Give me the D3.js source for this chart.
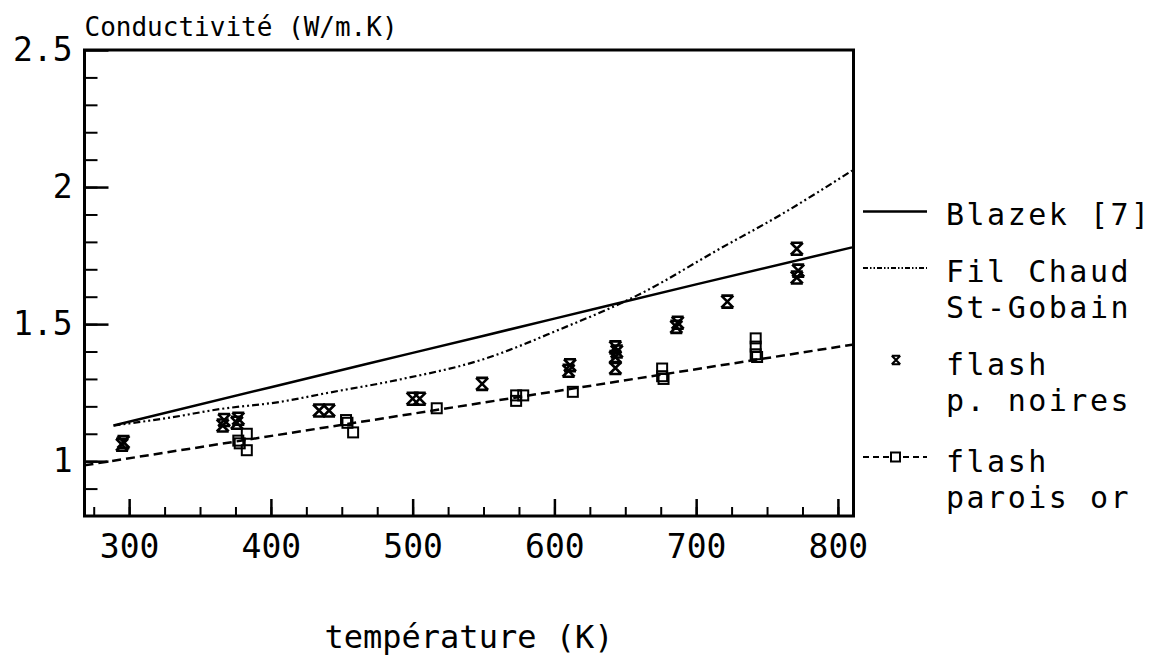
<!DOCTYPE html>
<html>
<head>
<meta charset="utf-8">
<script src="https://cdn.jsdelivr.net/npm/d3@7"></script>
<style>
  body { margin: 0; background: #fff; }
  text { font-family: "DejaVu Sans Mono", monospace; fill: #000; }
</style>
</head>
<body>
<div id="viz"></div>
<script>
const width = 1155;
const height = 657;
const frame = {left: 84.5, right: 853.5, top: 50, bottom: 516};

// Blazek [7] (solid line)
const blazekT = [289, 400, 500, 600, 700, 810];
const blazekK = [1.13, 1.27, 1.395, 1.52, 1.645, 1.78];

// Fil chaud St-Gobain (dash-dot-dot line)
const filT = [289, 330, 364, 406, 440, 489, 550, 603, 662, 715, 760, 810];
const filK = [1.13, 1.16, 1.19, 1.216, 1.249, 1.296, 1.372, 1.479, 1.614, 1.77, 1.9, 2.06];

// flash parois or (dashed fit)
const fitT = [268.5, 810];
const fitK = [0.985, 1.425];

// flash p. noires (x markers)
const noiresT = [295, 296, 366, 367, 376, 377, 434, 441, 500, 505, 549, 610, 611, 643, 643, 644, 643, 686, 687, 722, 771, 772, 771];
const noiresK = [1.06, 1.07, 1.13, 1.15, 1.14, 1.155, 1.185, 1.185, 1.228, 1.228, 1.282, 1.33, 1.35, 1.34, 1.38, 1.40, 1.415, 1.49, 1.505, 1.582, 1.67, 1.695, 1.775];

// flash parois or (square markers)
const paroisT = [377, 378, 383, 383, 453, 454, 458, 517, 573, 573, 578, 613, 676, 676, 677, 742, 742, 742, 743];
const paroisK = [1.075, 1.065, 1.10, 1.04, 1.15, 1.14, 1.105, 1.193, 1.24, 1.22, 1.24, 1.253, 1.338, 1.31, 1.30, 1.448, 1.418, 1.39, 1.38];

const xMajor = [300, 400, 500, 600, 700, 800];
const yMajor = [1, 1.5, 2, 2.5];
const yLabels = ['1', '1.5', '2', '2.5'];

const xScale = d3.scaleLinear().domain([268.5, 811]).range([frame.left, frame.right]);
const yScale = d3.scaleLinear().domain([0.8, 2.5]).range([frame.bottom, frame.top]);

const svg = d3.select('#viz')
  .append('svg')
  .attr('width', width)
  .attr('height', height);

svg.append('defs').append('clipPath').attr('id', 'plot-clip')
  .append('rect')
  .attr('x', frame.left).attr('y', frame.top)
  .attr('width', frame.right - frame.left)
  .attr('height', frame.bottom - frame.top);

// minor ticks
svg.append('g')
  .attr('transform', `translate(0, ${frame.bottom})`)
  .call(d3.axisBottom(xScale).tickValues(d3.range(275, 811, 25)).tickSizeInner(-9).tickSizeOuter(0).tickFormat(''))
  .call(g => g.select('.domain').remove())
  .selectAll('line').attr('stroke-width', 2);

svg.append('g')
  .attr('transform', `translate(${frame.left}, 0)`)
  .call(d3.axisLeft(yScale).tickValues(d3.range(0.9, 2.45, 0.1)).tickSizeInner(-13).tickSizeOuter(0).tickFormat(''))
  .call(g => g.select('.domain').remove())
  .selectAll('line').attr('stroke-width', 2);

// major ticks with labels
const xAxis = svg.append('g')
  .attr('transform', `translate(0, ${frame.bottom})`)
  .call(d3.axisBottom(xScale).tickValues(xMajor).tickSizeInner(-17).tickSizeOuter(0).tickPadding(19).tickFormat(d3.format('d')));
xAxis.select('.domain').remove();
xAxis.selectAll('line').attr('stroke-width', 2.5);
xAxis.selectAll('text').attr('font-size', 33).attr('font-family', null);

const yAxis = svg.append('g')
  .attr('transform', `translate(${frame.left}, 0)`)
  .call(d3.axisLeft(yScale).tickValues(yMajor).tickSizeInner(-24).tickSizeOuter(0).tickPadding(12).tickFormat((d, i) => yLabels[i]));
yAxis.select('.domain').remove();
yAxis.selectAll('line').attr('stroke-width', 2.5);
yAxis.selectAll('text').attr('font-size', 33).attr('font-family', null);

// frame
svg.append('rect')
  .attr('x', frame.left).attr('y', frame.top)
  .attr('width', frame.right - frame.left)
  .attr('height', frame.bottom - frame.top)
  .attr('fill', 'none')
  .attr('stroke', '#000')
  .attr('stroke-width', 3);

// curves
const line = d3.line()
  .x(d => xScale(d[0]))
  .y(d => yScale(d[1]))
  .curve(d3.curveMonotoneX);

const curves = svg.append('g').attr('clip-path', 'url(#plot-clip)').attr('fill', 'none').attr('stroke', '#000');

curves.append('path')
  .attr('d', line(d3.zip(blazekT, blazekK)))
  .attr('stroke-width', 2.5);

curves.append('path')
  .attr('d', line(d3.zip(filT, filK)))
  .attr('stroke-width', 2.2)
  .attr('stroke-dasharray', '7,3,2,3,2,3');

curves.append('path')
  .attr('d', line(d3.zip(fitT, fitK)))
  .attr('stroke-width', 2.5)
  .attr('stroke-dasharray', '9,5');

// markers
const starPath = 'M-6,-6H6M-6,6H6M-6,-6L6,6M6,-6L-6,6';

svg.append('g')
  .selectAll('path')
  .data(d3.zip(noiresT, noiresK))
  .join('path')
  .attr('transform', d => `translate(${xScale(d[0])}, ${yScale(d[1])})`)
  .attr('d', starPath)
  .attr('fill', 'none')
  .attr('stroke', '#000')
  .attr('stroke-width', 2.6);

svg.append('g')
  .selectAll('rect')
  .data(d3.zip(paroisT, paroisK))
  .join('rect')
  .attr('x', d => xScale(d[0]) - 5)
  .attr('y', d => yScale(d[1]) - 5)
  .attr('width', 10)
  .attr('height', 10)
  .attr('fill', 'none')
  .attr('stroke', '#000')
  .attr('stroke-width', 2);

// titles
svg.append('text')
  .attr('x', frame.left)
  .attr('y', 36)
  .attr('font-size', 26)
  .text('Conductivité (W/m.K)');

svg.append('text')
  .attr('x', (frame.left + frame.right) / 2)
  .attr('y', 648)
  .attr('text-anchor', 'middle')
  .attr('font-size', 32)
  .text('température (K)');

// legend
const legend = svg.append('g');
const lx0 = 863, lx1 = 927, tx = 946;

legend.append('line')
  .attr('x1', lx0).attr('x2', lx1).attr('y1', 211.5).attr('y2', 211.5)
  .attr('stroke', '#000').attr('stroke-width', 2.5);
legend.append('line')
  .attr('x1', lx0).attr('x2', lx1).attr('y1', 268).attr('y2', 268)
  .attr('stroke', '#000').attr('stroke-width', 2)
  .attr('stroke-dasharray', '5,2,1.5,2,1.5,2');
legend.append('path')
  .attr('transform', 'translate(896, 360) scale(0.7)')
  .attr('d', starPath)
  .attr('fill', 'none').attr('stroke', '#000').attr('stroke-width', 3);
legend.append('line')
  .attr('x1', lx0).attr('x2', lx1).attr('y1', 457).attr('y2', 457)
  .attr('stroke', '#000').attr('stroke-width', 2)
  .attr('stroke-dasharray', '6,4');
legend.append('rect')
  .attr('x', 891).attr('y', 452.5).attr('width', 9).attr('height', 9)
  .attr('fill', '#fff').attr('stroke', '#000').attr('stroke-width', 2);

const legendLines = [
  ['Blazek [7]', 225],
  ['Fil Chaud', 282],
  ['St-Gobain', 318],
  ['flash', 375],
  ['p. noires', 411],
  ['flash', 472],
  ['parois or', 508]
];
legend.selectAll('text')
  .data(legendLines)
  .join('text')
  .attr('x', tx)
  .attr('y', d => d[1])
  .attr('font-size', 30)
  .attr('letter-spacing', 2.5)
  .text(d => d[0]);
</script>
</body>
</html>
